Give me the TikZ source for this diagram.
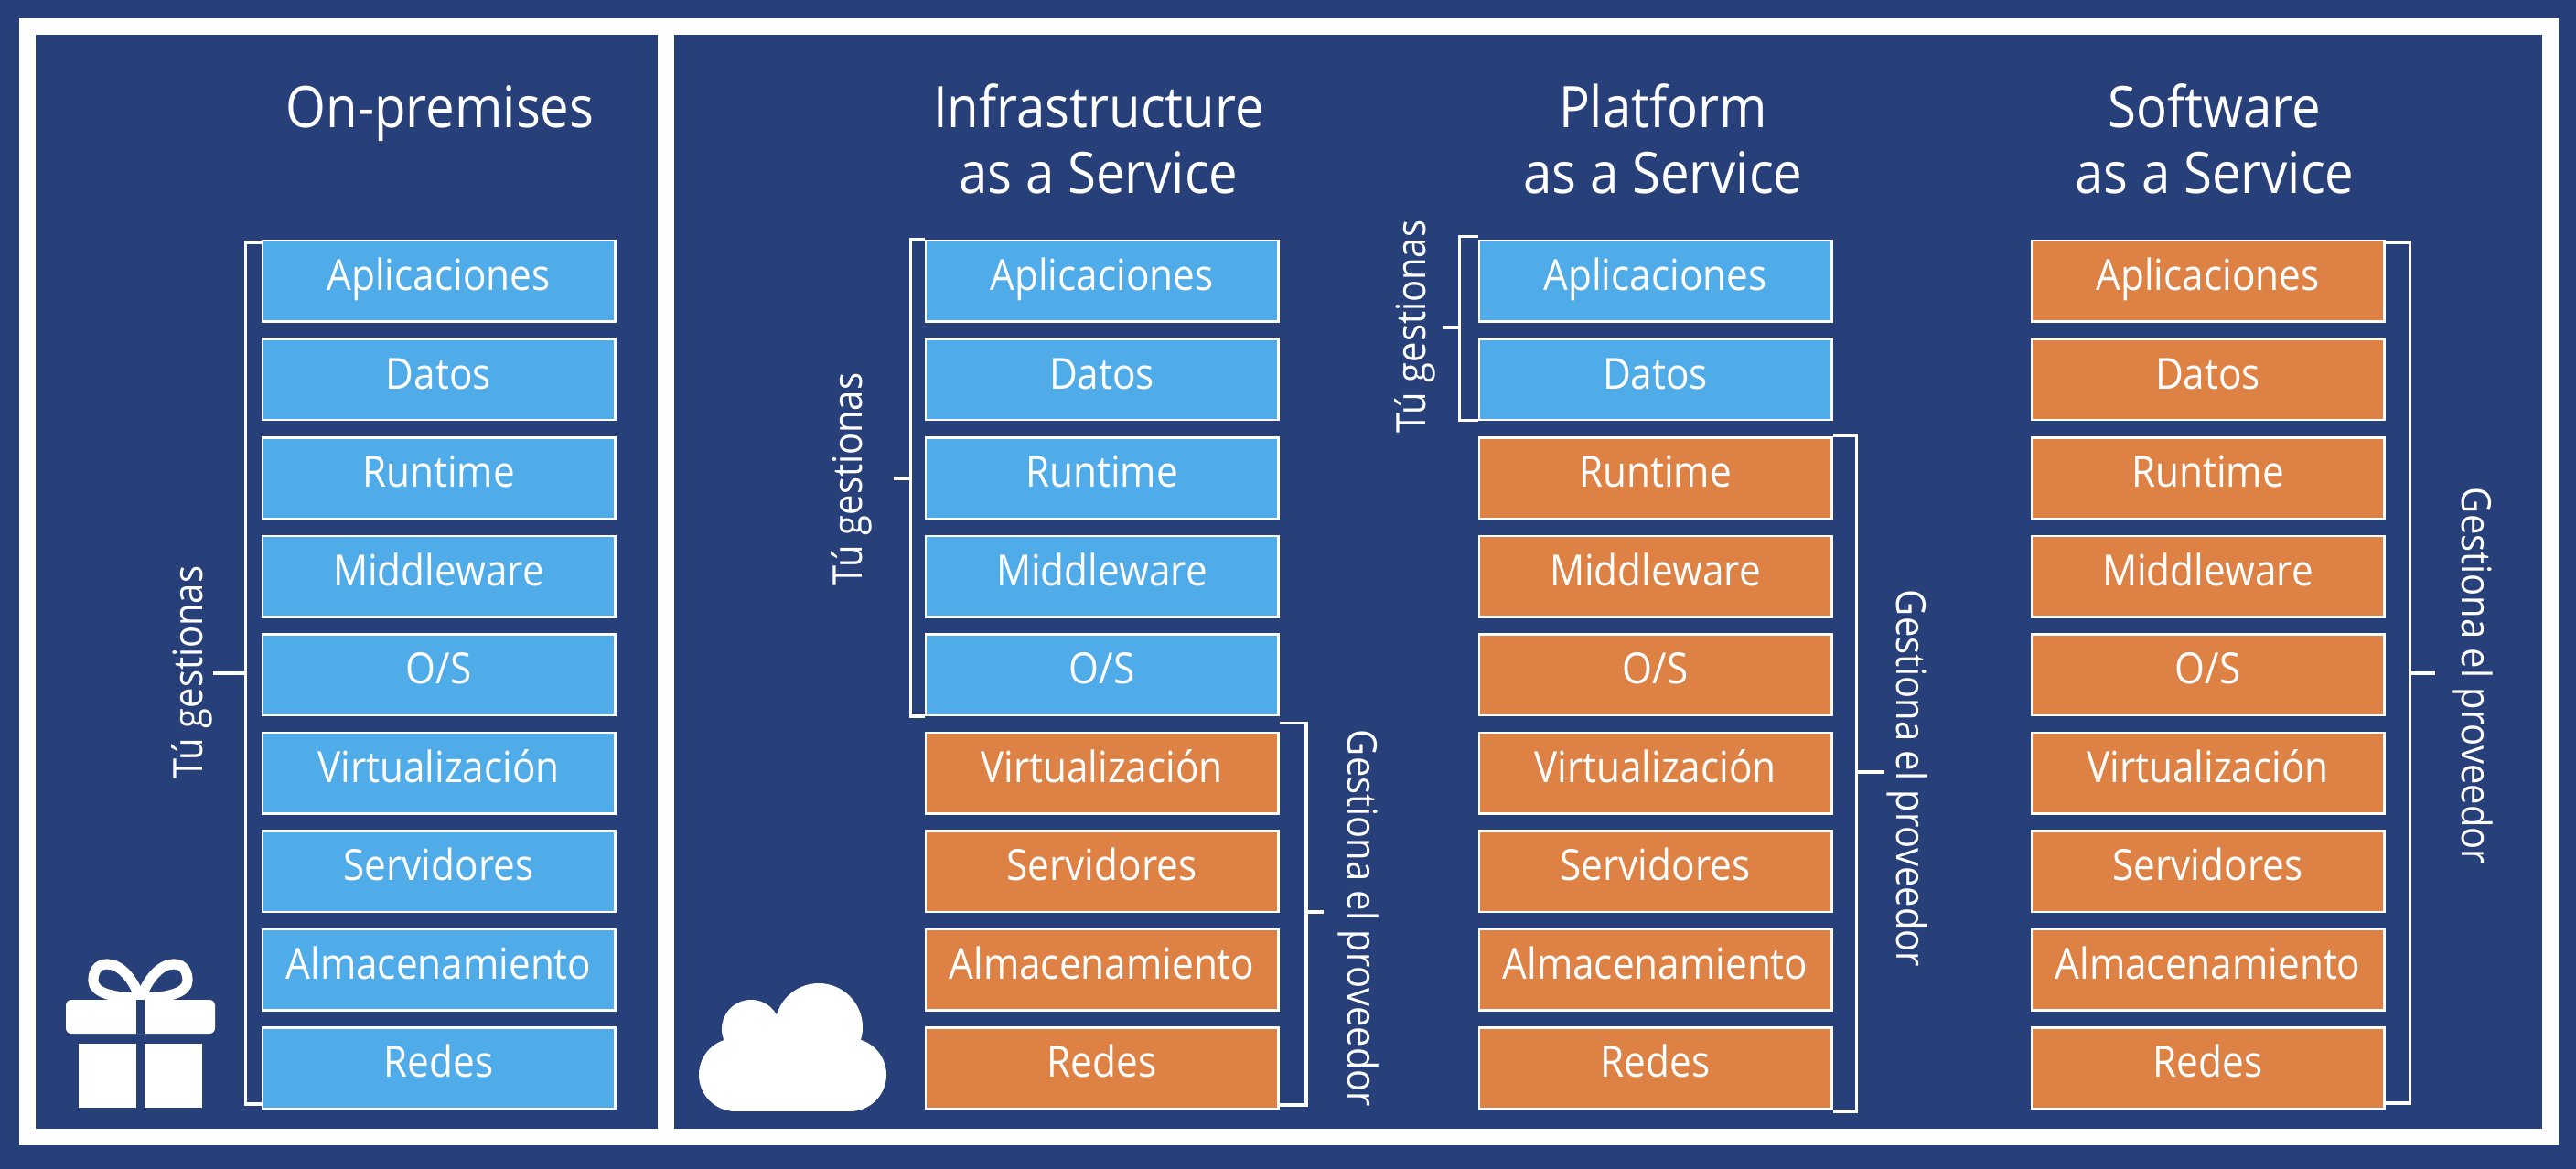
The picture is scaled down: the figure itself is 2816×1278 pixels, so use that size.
\documentclass[tikz,border=0pt]{standalone}
\usepackage{fontspec}
\setmainfont[FakeStretch=0.9]{Open Sans}
\definecolor{navy}{HTML}{28407A}
\definecolor{skyb}{HTML}{4FACE9}
\definecolor{orng}{HTML}{DD8244}
\tikzset{
  lay/.style={draw=white,line width=1.25pt,minimum width=192.75pt,minimum height=44.25pt,inner sep=0pt,
    text=white,font=\fontsize{23.5}{23.5}\selectfont,text height=27.25pt,text depth=17pt,anchor=north west},
  mine/.style={lay,fill=skyb},
  prov/.style={lay,fill=orng},
  brk/.style={draw=white,line width=1.9pt},
  ttl/.style={text=white,font=\fontsize{31.3}{36}\selectfont,align=center,inner sep=0pt,anchor=base},
  side/.style={text=white,font=\fontsize{22.2}{23}\selectfont,inner sep=0pt},
  icon/.style={fill=white,draw=none},
  bow/.style={draw=white,line width=5.6pt},
}
\begin{document}
\begin{tikzpicture}[x=0.5pt,y=-0.5pt]
\useasboundingbox (0,0) rectangle (2816,1278);
\fill[navy] (0,0) rectangle (2816,1278);
\fill[white] (21,20) rectangle (2797,1252);
\fill[navy] (39,38) rectangle (719,1234);
\fill[navy] (737,38) rectangle (2779,1234);
% titles
\node[ttl] (t1) at (481,140) {On-premises};
\node[ttl] (t2a) at (1201,140) {Infrastructure};
\node[ttl] (t2b) at (1201,212) {as a Service};
\node[ttl] (t3a) at (1818,140) {Platform};
\node[ttl] (t3b) at (1818,212) {as a Service};
\node[ttl] (t4a) at (2421,140) {Software};
\node[ttl] (t4b) at (2421,212) {as a Service};
% stacks
\foreach \c/\x/\n in {a/285.5/9,b/1010.5/5,c/1615.5/2,d/2219.5/0}{
  \foreach \i/\lab in {1/Aplicaciones,2/Datos,3/Runtime,4/Middleware,5/{O/S},6/Virtualización,7/Servidores,8/Almacenamiento,9/Redes}{
    \pgfmathsetmacro{\yy}{262+107.5*(\i-1)}
    \ifnum\i>\n \tikzset{cur/.style={prov}}\else\tikzset{cur/.style={mine}}\fi
    \node[cur] (\c\i) at (\x,\yy) {\lab};
  }
}
% column a bracket
\coordinate (sa) at (233,736);
\draw[brk] ([yshift=-1.5pt]a1.north west) -- ++(-8.5pt,0) coordinate (ca) |- ([yshift=3pt]a9.south west);
\draw[brk] (sa) -- (sa -| ca);
\node[side,rotate=90] (la) at (210,735) {Tú gestionas};
% column b
\draw[brk] (b1.north west) -- ++(-7.5pt,0) coordinate (cb) |- (b5.south west);
\coordinate (sb) at (977,523);
\draw[brk] (sb) -- (sb -| cb);
\node[side,rotate=90] (lb) at (931,524) {Tú gestionas};
\draw[brk] ([yshift=4.5pt]b6.north east) -- ++(14.75pt,0) coordinate (cb2) |- ([yshift=2.5pt]b9.south east);
\coordinate (sb2) at (1447,997);
\draw[brk] (sb2) -- (sb2 -| cb2);
\node[side,rotate=-90] (rb) at (1485,1004) {Gestiona el proveedor};
% column c
\draw[brk] ([yshift=1.75pt]c1.north west) -- ++(-10pt,0) coordinate (cc) |- ([yshift=0.5pt]c2.south west);
\coordinate (sc) at (1577,358);
\draw[brk] (sc) -- (sc -| cc);
\node[side,rotate=90] (lc) at (1547,357) {Tú gestionas};
\draw[brk] ([yshift=0.5pt]c3.north east) -- ++(13pt,0) coordinate (cc2) |- ([yshift=-1pt]c9.south east);
\coordinate (sc2) at (2060,844);
\draw[brk] (sc2) -- (sc2 -| cc2);
\node[side,rotate=-90] (rc) at (2085,851) {Gestiona el proveedor};
% column d
\draw[brk] ([yshift=-1.5pt]d1.north east) -- ++(13.5pt,0) coordinate (cd) |- ([yshift=3.5pt]d9.south east);
\coordinate (sd) at (2662,736);
\draw[brk] (sd) -- (sd -| cd);
\node[side,rotate=-90] (rd) at (2703,739) {Gestiona el proveedor};
% gift
\draw[bow] (154,1094) .. controls (146,1070) and (132,1054) .. (117,1054) .. controls (105,1054) and (102,1064) .. (102,1072) .. controls (102,1086) and (125,1091) .. (154,1091);
\draw[bow] (153,1094) .. controls (161,1070) and (175,1054) .. (190,1054) .. controls (202,1054) and (205,1064) .. (205,1072) .. controls (205,1086) and (182,1091) .. (153,1091);
\fill[icon,rounded corners=3pt] (72,1130) -- (72,1093) -- (235,1093) -- (235,1130) -- cycle;
\fill[navy] (149,1093) rectangle (158,1130);
\fill[icon] (86,1141) rectangle (149,1211);
\fill[icon] (158,1141) rectangle (221,1211);
% cloud
\fill[icon] (804,1175) circle (40);
\fill[icon] (929,1175) circle (40);
\fill[icon] (821,1125) circle (32);
\fill[icon] (895,1123) circle (48);
\fill[icon] (804,1120) rectangle (929,1215);
\end{tikzpicture}
\end{document}
